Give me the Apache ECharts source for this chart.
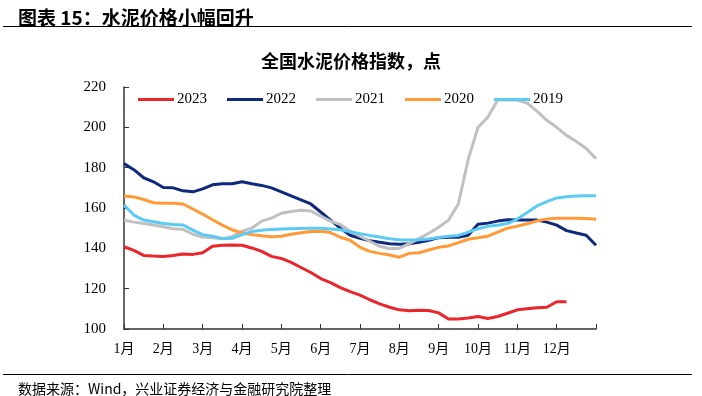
<!DOCTYPE html>
<html>
<head>
<meta charset="utf-8">
<script src="https://cdn.jsdelivr.net/npm/echarts@6/dist/echarts.min.js"></script>
<style>
  html, body { margin: 0; padding: 0; background: #fff; }
  #main { width: 702px; height: 396px; }
</style>
</head>
<body>
<div id="main"></div>
<script>
// 每月取4个点（周度），最后一个点为年末
var monthLabels = ['1月', '2月', '3月', '4月', '5月', '6月', '7月', '8月', '9月', '10月', '11月', '12月'];
var weeks = [];
for (var m = 0; m < 12; m++) {
    for (var w = 1; w <= 4; w++) weeks.push(monthLabels[m] + 'W' + w);
}
weeks.push('年末');

var legendNames = ['2023', '2022', '2021', '2020', '2019'];

var v2023 = [140.8, 139, 136.5, 136.2, 136, 136.5, 137.2, 137, 137.8, 141, 141.5, 141.7,
    141.5, 140.2, 138.5, 136, 135, 133, 130.5, 128, 125, 123, 120.5, 118.5,
    116.8, 114.5, 112.5, 110.8, 109.5, 109, 109.3, 109.2, 108, 105, 105, 105.5,
    106.2, 105.2, 106.2, 107.8, 109.5, 110, 110.5, 110.8, 113.5, 113.5, null, null, null];

var v2022 = [182, 179, 175, 173, 170.2, 170, 168.5, 168, 169.5, 171.5, 172, 172,
    173, 172, 171.2, 170, 168, 166, 164, 162, 158, 154, 150, 146.5,
    145, 143.8, 143, 142.3, 142, 142.3, 143, 144, 145.3, 145.5, 145.5, 146.5,
    152, 152.5, 153.5, 154.2, 154, 154, 154, 153, 151.5, 148.8, 147.6, 146.5, 141.5];

var v2021 = [154, 153, 152.3, 151.6, 150.7, 149.7, 149.4, 147, 145.6, 145.2, 144.8, 145.8,
    148.5, 150, 153.5, 155, 157.4, 158.3, 158.9, 158.5, 156, 153.5, 151.8, 148.5,
    146, 143.5, 141, 139.8, 140, 142.3, 144.8, 147.5, 150.5, 154, 162, 184,
    200, 205, 213.5, 213.5, 213.5, 212, 208, 203.5, 200, 196, 193, 189.5, 184.5];

var v2020 = [166, 165.5, 164.2, 162.6, 162.4, 162.3, 162, 159.5, 157, 154.2, 151.5, 149.2,
    147.6, 146.8, 146.2, 145.8, 146, 147, 147.7, 148.4, 148.5, 147.8, 145.5, 144,
    140.5, 138.5, 137.5, 136.7, 135.6, 137.5, 137.8, 139.2, 140.5, 141.2, 142.8, 144.5,
    145.2, 146, 148, 150, 151, 152.2, 153.6, 154.6, 154.9, 154.9, 154.9, 154.8, 154.4];

var v2019 = [161.5, 156.5, 154, 153.2, 152.3, 151.8, 151.6, 149, 146.8, 146, 144.8, 145,
    146.8, 148.3, 149, 149.4, 149.6, 149.7, 149.8, 149.9, 150, 149.6, 149.2, 148.2,
    147.3, 146.4, 145.6, 144.8, 144.3, 144.1, 144.2, 144.6, 145.4, 146, 146.4, 148,
    149.7, 150.9, 151.4, 152.3, 154.5, 157.8, 161, 163.2, 165, 165.6, 166, 166.1, 166.1];

var colors = ['#e8262b', '#0e2a7e', '#c0c0c0', '#ff9a36', '#5ccbf4'];
var allValues = [v2023, v2022, v2021, v2020, v2019];

var serif = "'Liberation Serif', 'Noto Sans CJK SC', serif";

var series = legendNames.map(function (name, i) {
    return {
        name: name,
        type: 'line',
        data: allValues[i],
        showSymbol: false,
        symbol: 'none',
        lineStyle: { width: 3, color: colors[i] },
        itemStyle: { color: colors[i] },
        connectNulls: false
    };
});

var myChart = echarts.init(document.getElementById('main'));
myChart.setOption({
    animation: false,
    title: [{
        text: '图表 15：水泥价格小幅回升',
        left: 13, top: 3,
        textStyle: { fontSize: 19, fontWeight: 'bold', color: '#000', fontFamily: "'Noto Sans CJK SC'" }
    }, {
        text: '全国水泥价格指数，点',
        left: 'center', top: 47,
        textStyle: { fontSize: 18, fontWeight: 'bold', color: '#000', fontFamily: "'Noto Sans CJK SC'" }
    }, {
        text: '数据来源：Wind，兴业证券经济与金融研究院整理',
        left: 13, top: 377,
        textStyle: { fontSize: 14, fontWeight: 'normal', color: '#000', fontFamily: "'Noto Sans CJK SC'" }
    }],
    graphic: [
        { type: 'line', shape: { x1: 3, y1: 26.5, x2: 692, y2: 26.5 }, style: { stroke: '#000', lineWidth: 1 } },
        { type: 'line', shape: { x1: 3, y1: 374.5, x2: 692, y2: 374.5 }, style: { stroke: '#000', lineWidth: 1 } }
    ],
    legend: {
        data: legendNames,
        top: 92, left: 138, padding: 0,
        itemWidth: 36, itemHeight: 3, itemGap: 20,
        icon: 'rect',
        textStyle: { fontSize: 15, color: '#000', fontFamily: serif, padding: [0, 0, 0, -2] }
    },
    grid: { left: 124, right: 106, top: 87, bottom: 67 },
    xAxis: {
        type: 'category',
        data: weeks,
        boundaryGap: false,
        axisLine: { lineStyle: { color: '#333', width: 1.5 } },
        axisTick: {
            inside: true, length: 5, lineStyle: { color: '#333' },
            interval: function (index) { return index % 4 === 0; }
        },
        axisLabel: {
            interval: function (index) { return index % 4 === 0 && index < 48; },
            formatter: function (value, index) { return monthLabels[index / 4]; },
            fontSize: 14, color: '#000', fontFamily: serif, margin: 13
        },
        splitLine: { show: false }
    },
    yAxis: {
        type: 'value',
        min: 100, max: 220, interval: 20,
        axisLine: { show: true, lineStyle: { color: '#333', width: 1.5 } },
        axisTick: { show: true, inside: true, length: 5, lineStyle: { color: '#333' } },
        axisLabel: { fontSize: 15, color: '#000', fontFamily: serif, margin: 18 },
        splitLine: { show: false }
    },
    series: series
});
</script>
</body>
</html>
